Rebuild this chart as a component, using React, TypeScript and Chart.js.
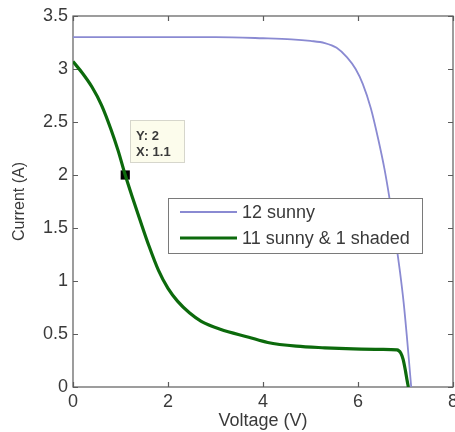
import React, { useEffect, useRef } from "react";
import { Chart, registerables } from "chart.js";

Chart.register(...registerables);

// I–V curves of a 12-cell string
const sunnyVoltage = [0, 3.0, 4.0, 4.6, 5.0, 5.3, 5.55, 5.77, 5.95, 6.1, 6.27, 6.43, 6.56, 6.67, 6.78, 6.88, 6.96, 7.04, 7.12];
const sunnyCurrent = [3.3, 3.3, 3.29, 3.28, 3.265, 3.245, 3.2, 3.11, 3.0, 2.86, 2.63, 2.33, 2.05, 1.76, 1.43, 1.1, 0.8, 0.42, 0];

const shadedVoltage = [0, 0.2, 0.4, 0.6, 0.8, 0.95, 1.1, 1.25, 1.4, 1.6, 1.8, 2.0, 2.2, 2.45, 2.7, 3.1, 3.7, 4.1, 4.7, 5.3, 5.9, 6.5, 6.82, 6.9, 6.95, 7.0, 7.03, 7.06];
const shadedCurrent = [3.07, 2.96, 2.83, 2.66, 2.43, 2.23, 2.0, 1.79, 1.59, 1.33, 1.1, 0.93, 0.81, 0.7, 0.62, 0.545, 0.47, 0.42, 0.385, 0.37, 0.36, 0.355, 0.35, 0.32, 0.26, 0.15, 0.07, 0];

const seriesLabels = ["12 sunny", "11 sunny & 1 shaded"];
const seriesColors = ["#8a8ad2", "#0c6a0c"];

// data cursor on the shaded curve
const cursorX = 1.1;
const cursorY = 2;

const xTickValues = [0, 2, 4, 6, 8];
const yTickValues = [0, 0.5, 1, 1.5, 2, 2.5, 3, 3.5];
const xAxisTitle = "Voltage (V)";
const yAxisTitle = "Current (A)";

const FONT = "'Liberation Sans', Arial, Helvetica, sans-serif";
const TEXT = "#3a3a3a";
const FRAME = "#5c5c5c";

const toPoints = (xs: number[], ys: number[]) => xs.map((x, i) => ({ x, y: ys[i] }));

// Boxed axes with inward tick marks on all four sides, plus the
// voltage tick labels (allowed to run past the right edge of the canvas)
const framePlugin = {
  id: "frame",
  beforeDatasetsDraw(chart: any) {
    const { ctx, chartArea: a, scales } = chart;
    const len = 5;
    ctx.save();
    ctx.strokeStyle = FRAME;
    ctx.lineWidth = 1.2;
    ctx.strokeRect(a.left, a.top, a.right - a.left, a.bottom - a.top);
    ctx.beginPath();
    for (const t of scales.x.ticks) {
      const px = Math.round(scales.x.getPixelForValue(t.value)) + 0.5;
      ctx.moveTo(px, a.bottom);
      ctx.lineTo(px, a.bottom - len);
      ctx.moveTo(px, a.top);
      ctx.lineTo(px, a.top + len);
    }
    for (const t of scales.y.ticks) {
      const py = Math.round(scales.y.getPixelForValue(t.value)) + 0.5;
      ctx.moveTo(a.left, py);
      ctx.lineTo(a.left + len, py);
      ctx.moveTo(a.right, py);
      ctx.lineTo(a.right - len, py);
    }
    ctx.stroke();

    ctx.fillStyle = TEXT;
    ctx.font = `18px ${FONT}`;
    ctx.textAlign = "center";
    ctx.textBaseline = "top";
    for (const t of scales.x.ticks) {
      ctx.fillText(String(t.value), scales.x.getPixelForValue(t.value), a.bottom + 6);
    }
    ctx.restore();
  },
};

// Legend box and data-cursor label
const overlayPlugin = {
  id: "overlay",
  afterDatasetsDraw(chart: any) {
    const { ctx, chartArea: a, scales } = chart;
    ctx.save();

    // legend
    const lx = a.left + 95;
    const ly = a.top + 182;
    const lw = 254;
    const lh = 55;
    ctx.fillStyle = "#ffffff";
    ctx.fillRect(lx, ly, lw, lh);
    ctx.strokeStyle = "#7a7a7a";
    ctx.lineWidth = 1;
    ctx.strokeRect(lx + 0.5, ly + 0.5, lw, lh);
    ctx.font = `18px ${FONT}`;
    ctx.textBaseline = "middle";
    ctx.textAlign = "left";
    const rows = [ly + 14, ly + 40];
    seriesLabels.forEach((label, i) => {
      ctx.strokeStyle = seriesColors[i];
      ctx.lineWidth = i === 0 ? 1.8 : 3.2;
      ctx.beginPath();
      ctx.moveTo(lx + 12, rows[i]);
      ctx.lineTo(lx + 69, rows[i]);
      ctx.stroke();
      ctx.fillStyle = TEXT;
      ctx.fillText(label, lx + 74, rows[i] + 1);
    });

    // data tip
    const px = scales.x.getPixelForValue(cursorX);
    const py = scales.y.getPixelForValue(cursorY);
    const bx = Math.round(px) + 5;
    const by = Math.round(py) - 55;
    ctx.fillStyle = "#fcfcec";
    ctx.fillRect(bx, by, 54, 42);
    ctx.strokeStyle = "#d6d6cc";
    ctx.lineWidth = 1;
    ctx.strokeRect(bx + 0.5, by + 0.5, 54, 42);
    ctx.fillStyle = TEXT;
    ctx.font = `bold 13px ${FONT}`;
    ctx.fillText(`Y: ${cursorY}`, bx + 6, by + 16);
    ctx.fillText(`X: ${cursorX}`, bx + 6, by + 32);

    ctx.restore();
  },
};

export default function App() {
  const canvasRef = useRef<HTMLCanvasElement | null>(null);

  useEffect(() => {
    document.body.style.margin = "0";
    const canvas = canvasRef.current;
    if (!canvas) return;

    const chart = new Chart(canvas, {
      type: "line",
      data: {
        datasets: [
          {
            label: seriesLabels[0],
            data: toPoints(sunnyVoltage, sunnyCurrent),
            borderColor: seriesColors[0],
            borderWidth: 1.8,
            pointRadius: 0,
            cubicInterpolationMode: "monotone",
            fill: false,
          },
          {
            label: seriesLabels[1],
            data: toPoints(shadedVoltage, shadedCurrent),
            borderColor: seriesColors[1],
            borderWidth: 3.2,
            pointRadius: 0,
            cubicInterpolationMode: "monotone",
            fill: false,
          },
          {
            label: "cursor",
            data: [{ x: cursorX, y: cursorY }],
            showLine: false,
            pointStyle: "rect",
            pointRadius: 6.5,
            pointBackgroundColor: "#000000",
            pointBorderColor: "#000000",
            pointBorderWidth: 0,
            clip: false,
          },
        ],
      },
      options: {
        responsive: false,
        animation: false,
        events: [],
        layout: { autoPadding: false, padding: { top: 16, right: 2, left: 0, bottom: 0 } },
        plugins: {
          legend: { display: false },
          tooltip: { enabled: false },
        },
        scales: {
          x: {
            type: "linear",
            min: 0,
            max: 8,
            grid: { display: false, drawTicks: false },
            border: { display: false },
            afterBuildTicks: (s: any) => {
              s.ticks = xTickValues.map((value) => ({ value }));
            },
            afterFit: (s: any) => {
              s.height = 45;
            },
            ticks: { display: false },
            title: {
              display: true,
              text: xAxisTitle,
              color: TEXT,
              font: { family: FONT, size: 18 },
              padding: { top: 0, bottom: 0 },
            },
          },
          y: {
            type: "linear",
            min: 0,
            max: 3.5,
            grid: { display: false, drawTicks: false },
            border: { display: false },
            afterBuildTicks: (s: any) => {
              s.ticks = yTickValues.map((value) => ({ value }));
            },
            afterFit: (s: any) => {
              s.width = 73;
            },
            ticks: {
              padding: 5,
              color: TEXT,
              font: { family: FONT, size: 18 },
              callback: (v: any) => String(v),
            },
            title: {
              display: true,
              text: yAxisTitle,
              color: TEXT,
              font: { family: FONT, size: 16 },
              padding: { top: 10, bottom: 0 },
            },
          },
        },
      },
      plugins: [framePlugin, overlayPlugin],
    } as any);

    return () => chart.destroy();
  }, []);

  return (
    <div style={{ position: "absolute", left: 0, top: 0, width: 455, height: 432, background: "#ffffff" }}>
      <canvas ref={canvasRef} width={455} height={432} />
    </div>
  );
}
